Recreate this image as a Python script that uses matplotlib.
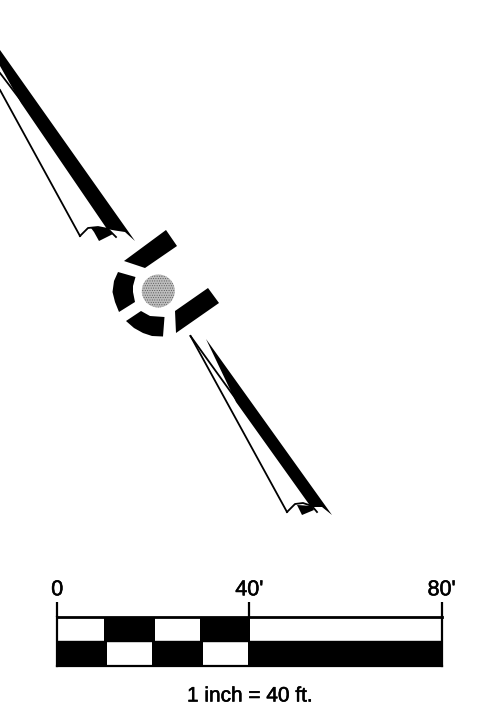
import matplotlib
matplotlib.use("Agg")
import matplotlib.pyplot as plt
import matplotlib.patheffects as pe
from matplotlib.patches import Polygon, Circle

plt.rcParams['font.family'] = ['Liberation Sans', 'DejaVu Sans']
plt.rcParams['hatch.linewidth'] = 0.4

# plan view outlines in pixels
block_upper = [(124, 261), (166, 230), (177, 246), (145, 268)]
block_right = [(175, 311), (208, 288), (219, 303), (176, 333)]
arc_left = [(118, 272), (114, 281), (112.5, 292), (115, 302), (119, 312),
            (135, 302), (133, 292), (133, 286), (135.5, 277)]
arc_bottom = [(126, 321), (141, 311), (150, 316), (164.5, 317), (163, 336.5),
              (152, 336), (143, 333), (134, 328)]
post_center = (158.3, 291)
post_radius = 16.5

# upper trail
band_top = [(0, 50), (135, 241), (125, 232), (115, 230.5), (107, 229), (21, 103), (0, 66)]
line_top_x = [0, 80]
line_top_y = [90, 236]
line_top2_x = [0, 22]
line_top2_y = [73, 102]
scallop_top_x = [80, 88, 98, 108, 116]
scallop_top_y = [236, 228, 227, 229, 237]
fill_top = [(91, 228), (108, 228), (113, 234), (99, 241), (94, 232)]

# lower trail
band_bot = [(206, 339), (332, 515), (322, 507), (311, 507), (236, 402)]
line_bot_x = [190.5, 287]
line_bot_y = [336, 512]
line_bot2_x = [190.5, 238]
line_bot2_y = [336, 402]
scallop_bot_x = [287, 295, 303, 312, 317]
scallop_bot_y = [512, 504, 503, 506, 512]
fill_bot = [(297, 505), (312, 506), (314, 510), (302, 515)]

# scale bar, in feet
tick_feet = [0, 40, 80]
tick_labels = ['0', "40'", "80'"]
top_black = [(9.7, 10.6), (29.8, 10.4)]
bottom_black = [(0, 10.3), (19.8, 10.6), (39.75, 40.25)]
scale_text = "1 inch = 40 ft."

fig = plt.figure(figsize=(4.85, 7.19), dpi=100)

ax = fig.add_axes([0, 0, 1, 1])
ax.set_xlim(0, 485)
ax.set_ylim(719, 0)
ax.axis('off')

for pts in [block_upper, block_right, arc_left, arc_bottom, band_top, band_bot, fill_top, fill_bot]:
    ax.add_patch(Polygon(pts, closed=True, facecolor='black', edgecolor='none'))
# dotted fill for the post, the original is a dithered grey
ax.add_patch(Circle(post_center, post_radius, facecolor='#bdbdbd', edgecolor='#555555',
                    hatch='.......', lw=0))

for xs, ys in [(line_top_x, line_top_y), (line_top2_x, line_top2_y), (scallop_top_x, scallop_top_y),
               (line_bot_x, line_bot_y), (line_bot2_x, line_bot2_y), (scallop_bot_x, scallop_bot_y)]:
    ax.plot(xs, ys, color='black', lw=1.3)

# slight stroke so the text has the heavier scanned look
heavy = [pe.withStroke(linewidth=0.4, foreground='black')]
ax.text(250, 696, scale_text, ha='center', va='center', fontsize=15, path_effects=heavy)

# scale bar axes, x in feet
W, H = 485.0, 719.0
sx = fig.add_axes([57.3 / W, 1 - 665.5 / H, (441.7 - 57.3) / W, (665.5 - 617) / H])
sx.set_xlim(0, 80)
sx.set_ylim(0, 2)
sx.broken_barh(top_black, (1, 1), facecolor='black')
sx.broken_barh(bottom_black, (0, 1), facecolor='black')
for s in ['top', 'bottom', 'left', 'right']:
    sx.spines[s].set_linewidth(1.6)
sx.spines['top'].set_linewidth(2)
sx.set_yticks([])
sx.xaxis.tick_top()
sx.set_xticks(tick_feet)
sx.set_xticklabels(tick_labels, fontsize=15.5, path_effects=heavy)
sx.tick_params(axis='x', length=11, width=1.6, pad=1)
sx.axhline(1, color='black', lw=1)

fig.savefig('out.png', dpi=100)
